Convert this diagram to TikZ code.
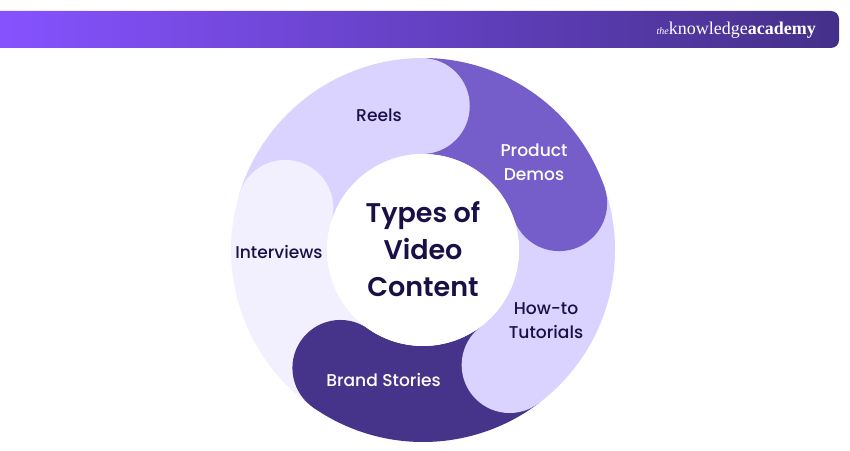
\documentclass[tikz,border=0pt]{standalone}
\usepackage{fontspec}
\setmainfont{Poppins}
\newfontfamily\medfont{Poppins Medium}
\newfontfamily\semifont{Poppins SemiBold}
\newfontfamily\logofont{Liberation Serif}
\definecolor{lilac}{HTML}{DAD2FF}
\definecolor{midpurple}{HTML}{755EC9}
\definecolor{deeppurple}{HTML}{46348B}
\definecolor{palelilac}{HTML}{F2EFFE}
\definecolor{inkdark}{HTML}{1B1046}
\definecolor{bannerl}{HTML}{8652FF}
\definecolor{bannerm}{HTML}{6A42CC}
\definecolor{bannerr}{HTML}{443089}
\usetikzlibrary{calc}
\tikzset{
  seglabel/.style={align=center,inner sep=0pt,font=\medfont\fontsize{17.1}{24}\selectfont,text=inkdark},
  seglabelw/.style={seglabel,text=white},
  titlelabel/.style={align=center,inner sep=0pt,font=\semifont\fontsize{27}{37}\selectfont,text=inkdark},
}
\newcommand{\ringseg}[3]{% colour, from angle, to angle (clockwise)
  \fill[#1] (O) ++(#2:192) arc[start angle=#2,end angle=#3,radius=192]
     -- ($(O)+(#3:96)$) arc[start angle=#3,end angle=#2,radius=96] -- cycle;
}
\begin{document}
\begin{tikzpicture}[x=1pt,y=1pt]
\useasboundingbox (0,0) rectangle (850,450);
\coordinate (O) at (423,200);
% banner
\begin{scope}
\clip (0,439) -- (831,439) arc[start angle=90,end angle=0,radius=8] -- (839,410) arc[start angle=0,end angle=-90,radius=8] -- (0,402) -- cycle;
\shade[left color=bannerl,middle color=bannerm,right color=bannerr] (0,402) rectangle (839,439);
\end{scope}
\node (logo) [inner sep=0pt,anchor=base east,text=white] at (816,415) {\logofont{\fontsize{10}{10}\selectfont\itshape the}\fontsize{18}{18}\selectfont knowledge\textbf{academy}};
% ring
\ringseg{lilac}{163}{90.5}
\ringseg{midpurple}{90.5}{19}
\ringseg{lilac}{19}{-53}
\ringseg{deeppurple}{-53}{-125}
\ringseg{palelilac}{-125}{-197}
\fill[lilac] (O) ++(90.5:144) circle[radius=48];
\fill[midpurple] (O) ++(19:144) circle[radius=48];
\fill[lilac] (O) ++(-53:144) circle[radius=48];
\fill[deeppurple] (O) ++(-125:144) circle[radius=48];
\fill[palelilac] (O) ++(163:144) circle[radius=48];
\fill[white] (O) circle[radius=96];
\node (reels) [seglabel] at (379,335) {Reels};
\node (demos) [seglabelw] at (534,288) {Product\\Demos};
\node (howto) [seglabel] at (546,129.5) {How-to\\Tutorials};
\node (brand) [seglabelw] at (383.5,70) {Brand Stories};
\node (inter) [seglabel] at (279,198) {Interviews};
\node (title) [titlelabel] at (423,201) {Types of\\Video\\Content};
\end{tikzpicture}
\end{document}
